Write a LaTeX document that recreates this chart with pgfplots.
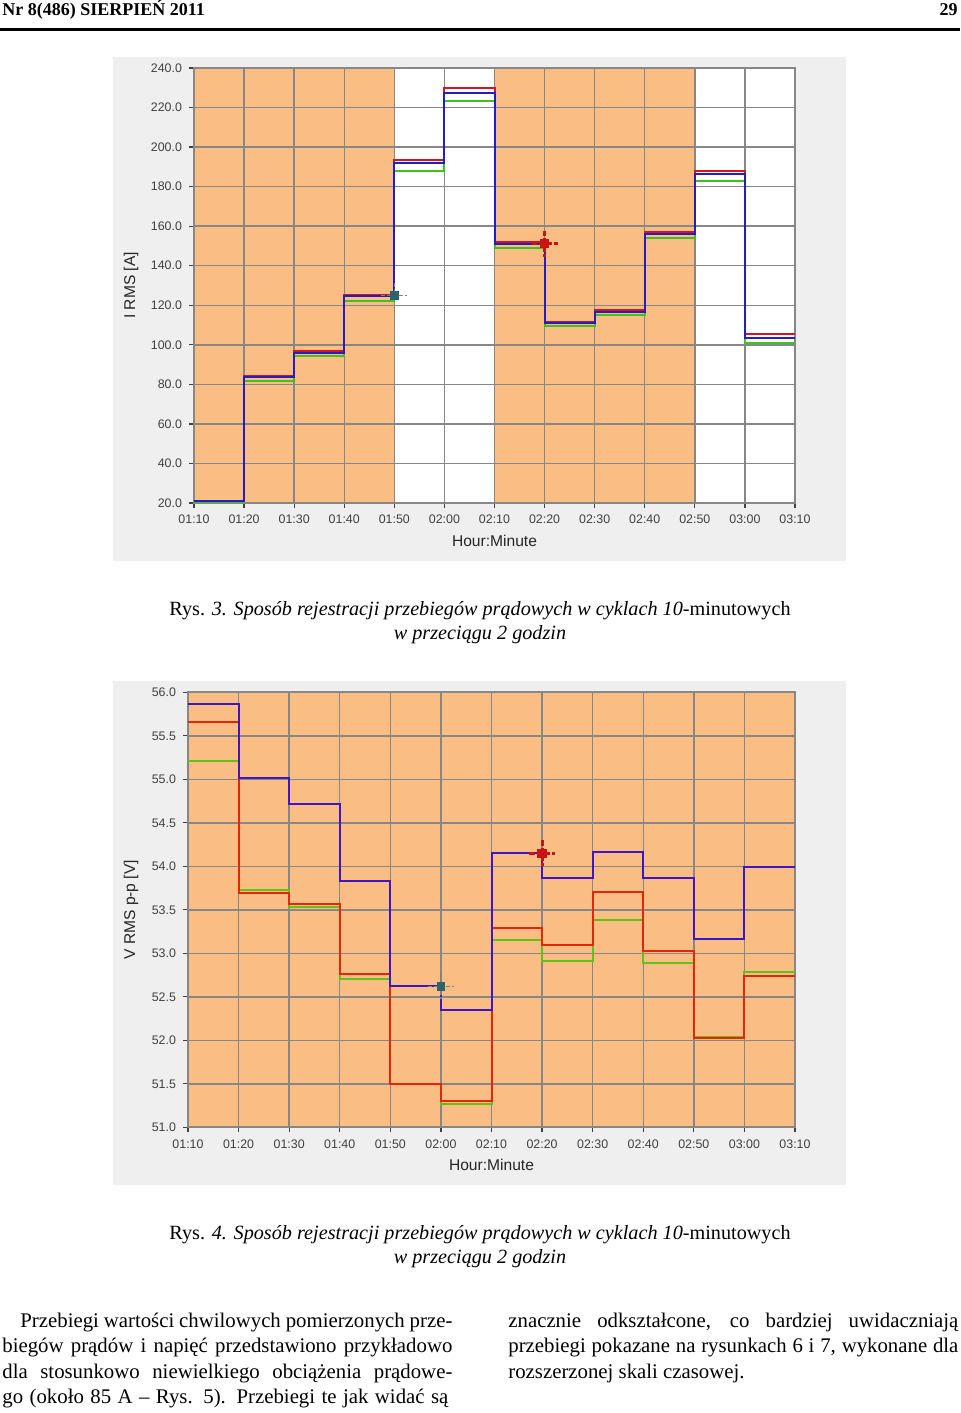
\documentclass[border=0pt]{standalone}
\usepackage{fontspec}
\setmainfont{Liberation Serif}
\newfontfamily\chartfont{Liberation Sans}
\usepackage{graphicx}
\usepackage{pgfplots}
\pgfplotsset{compat=1.18}

\definecolor{panelgray}{RGB}{239,239,239}
\definecolor{orbg}{RGB}{250,190,132}
\definecolor{gridgray}{RGB}{135,135,135}
\definecolor{rA}{RGB}{210,20,35}
\definecolor{bA}{RGB}{35,30,195}
\definecolor{gA}{RGB}{60,195,30}
\definecolor{rB}{RGB}{228,38,12}
\definecolor{bB}{RGB}{60,22,200}
\definecolor{gB}{RGB}{95,195,20}
\definecolor{teal1}{RGB}{45,100,105}
\definecolor{cross}{RGB}{200,20,20}

\pgfplotsset{
  mychart/.style={
    scale only axis,
    xmin=0, xmax=12,
    xtick={0,...,12},
    xticklabels={01:10,01:20,01:30,01:40,01:50,02:00,02:10,02:20,02:30,02:40,02:50,03:00,03:10},
    xtick pos=bottom, ytick pos=left,
    grid=major, grid style={color=gridgray, line width=0.7pt},
    axis line style={draw=gridgray, line width=0.9pt},
    tick align=outside, major tick length=2.5pt,
    tick style={color=black!75, line width=0.6pt},
    ticklabel style={font=\chartfont\fontsize{6.2}{7}\selectfont, text=black!75},
    label style={font=\chartfont\fontsize{7.8}{9}\selectfont, text=black!85},
    xlabel={Hour:Minute},
    xlabel style={at={(axis description cs:0.5,0)}, anchor=center, yshift=-19pt},
    every axis plot/.append style={line width=1pt},
  },
  geomA/.style={scale only axis, at={(97pt,-251.5pt)}, anchor=south west,
    width=300.5pt, height=217.5pt, xmin=0, xmax=12, ymin=20, ymax=240},
}

\begin{document}
\begin{tikzpicture}

% header
\node[anchor=base west, inner sep=0pt] at (1pt,-8pt) {\bfseries\fontsize{9}{10}\selectfont Nr 8(486) SIERPIEŃ 2011};
\node[anchor=base east, inner sep=0pt] at (479pt,-8pt) {\bfseries\fontsize{9}{10}\selectfont 29};
\draw[line width=1.3pt] (0,-14.7pt) -- (480pt,-14.7pt);

% panels
\fill[panelgray] (56.5pt,-28.5pt) rectangle (423pt,-280.5pt);
\fill[panelgray] (56.5pt,-340.5pt) rectangle (423pt,-592.5pt);

% ---------- chart 1: background bands ----------
\begin{axis}[geomA, hide axis, axis background/.style={fill=white}]
\addplot[fill=orbg, draw=none] coordinates {(0,20) (0,240) (4,240) (4,20)} -- cycle;
\addplot[fill=orbg, draw=none] coordinates {(6,20) (6,240) (10,240) (10,20)} -- cycle;
\end{axis}

% ---------- chart 1 ----------
\begin{axis}[mychart, geomA,
  ytick={20,40,60,80,100,120,140,160,180,200,220,240},
  yticklabels={20.0,40.0,60.0,80.0,100.0,120.0,140.0,160.0,180.0,200.0,220.0,240.0},
  ylabel={I RMS [A]},
  ylabel style={at={(axis description cs:-0.1048,0.5)}, anchor=center},
]
\addplot[const plot, color=gA] coordinates {(0,20.4)(1,81.9)(2,94.5)(3,122.4)(4,188.0)(5,223.3)(6,149.2)(7,109.6)(8,115.3)(9,154.0)(10,183.1)(11,101.1)(12,101.1)};
\addplot[const plot, color=rA] coordinates {(0,21.0)(1,84.1)(2,97.1)(3,125.4)(4,193.7)(5,229.7)(6,152.1)(7,111.6)(8,117.7)(9,157.3)(10,188.0)(11,105.7)(12,105.7)};
\addplot[const plot, color=bA] coordinates {(0,21.0)(1,83.6)(2,95.8)(3,124.9)(4,191.9)(5,227.6)(6,151.1)(7,111.1)(8,116.7)(9,156.0)(10,186.2)(11,103.7)(12,103.7)};
% cursors
\addplot[only marks, mark=+, mark size=6.5pt, mark options={draw=gray, line width=0.6pt, dash pattern=on 2pt off 1pt}] coordinates {(4,124.9)};
\addplot[only marks, mark=square*, mark size=1.6pt, mark options={fill=teal1, draw=teal1, solid}] coordinates {(4,124.9)};
\addplot[only marks, mark=+, mark size=6.5pt, mark options={draw=cross, line width=1.5pt, dash pattern=on 2.8pt off 1pt}] coordinates {(7,151.1)};
\addplot[only marks, mark=square*, mark size=1.8pt, mark options={fill=cross, draw=cross, solid}] coordinates {(7,151.1)};
\end{axis}

% ---------- chart 2 ----------
\begin{axis}[mychart,
  at={(94pt,-563.65pt)}, anchor=south west,
  width=303.5pt, height=217.5pt,
  ymin=51, ymax=56,
  ytick={51,51.5,52,52.5,53,53.5,54,54.5,55,55.5,56},
  yticklabels={51.0,51.5,52.0,52.5,53.0,53.5,54.0,54.5,55.0,55.5,56.0},
  ylabel={V RMS p-p [V]},
  ylabel style={at={(axis description cs:-0.0939,0.5)}, anchor=center},
  axis background/.style={fill=orbg},
]
\addplot[const plot, color=gB] coordinates {(0,55.21)(1,53.73)(2,53.53)(3,52.71)(4,51.50)(5,51.27)(6,53.15)(7,52.91)(8,53.38)(9,52.89)(10,52.04)(11,52.78)(12,52.78)};
\addplot[const plot, color=rB] coordinates {(0,55.66)(1,53.69)(2,53.57)(3,52.76)(4,51.50)(5,51.30)(6,53.29)(7,53.09)(8,53.70)(9,53.03)(10,52.03)(11,52.74)(12,52.74)};
\addplot[const plot, color=bB] coordinates {(0,55.87)(1,55.01)(2,54.72)(3,53.83)(4,52.62)(5,52.35)(6,54.15)(7,53.86)(8,54.16)(9,53.86)(10,53.16)(11,53.99)(12,53.99)};
\addplot[only marks, mark=+, mark size=6.5pt, mark options={draw=gray, line width=0.6pt, dash pattern=on 2pt off 1pt}] coordinates {(5,52.62)};
\addplot[only marks, mark=square*, mark size=1.6pt, mark options={fill=teal1, draw=teal1, solid}] coordinates {(5,52.62)};
\addplot[only marks, mark=+, mark size=6.5pt, mark options={draw=cross, line width=1.5pt, dash pattern=on 2.8pt off 1pt}] coordinates {(7,54.15)};
\addplot[only marks, mark=square*, mark size=1.8pt, mark options={fill=cross, draw=cross, solid}] coordinates {(7,54.15)};
\end{axis}

% captions
\node[anchor=base, inner sep=0pt] at (240pt,-307.75pt) {\fontsize{10.1}{12}\selectfont Rys. \textit{3. Sposób rejestracji przebiegów prądowych w cyklach 10}-minutowych};
\node[anchor=base, inner sep=0pt] at (240pt,-319.75pt) {\fontsize{10.1}{12}\selectfont\itshape w przeciągu 2 godzin};
\node[anchor=base, inner sep=0pt] at (240pt,-619.75pt) {\fontsize{10.1}{12}\selectfont Rys. \textit{4. Sposób rejestracji przebiegów prądowych w cyklach 10}-minutowych};
\node[anchor=base, inner sep=0pt] at (240pt,-631.75pt) {\fontsize{10.1}{12}\selectfont\itshape w przeciągu 2 godzin};

% body text
\begin{scope}[every node/.style={anchor=base west, inner sep=0pt, font=\fontsize{10.4}{12}\selectfont}]
\node at (10pt,-663.75pt) {\makebox[216pt][s]{Przebiegi wartości chwilowych pomierzonych prze-}};
\node at (1pt,-676.4pt) {\makebox[225pt][s]{biegów prądów i napięć przedstawiono przykładowo}};
\node at (1pt,-689.05pt) {\makebox[225pt][s]{dla stosunkowo niewielkiego obciążenia prądowe-}};
\node at (1pt,-701.7pt) {\makebox[223pt][s]{go (około 85 A – Rys. 5). Przebiegi te jak widać są}};
\node at (254pt,-663.75pt) {\makebox[225pt][s]{znacznie odkształcone, co bardziej uwidaczniają}};
\node at (254pt,-676.4pt) {\makebox[225pt][s]{przebiegi pokazane na rysunkach 6 i 7, wykonane dla}};
\node at (254pt,-689.05pt) {rozszerzonej skali czasowej.};
\end{scope}

\pgfresetboundingbox
\path (0,0) rectangle (480pt,-706.5pt);
\end{tikzpicture}
\end{document}
